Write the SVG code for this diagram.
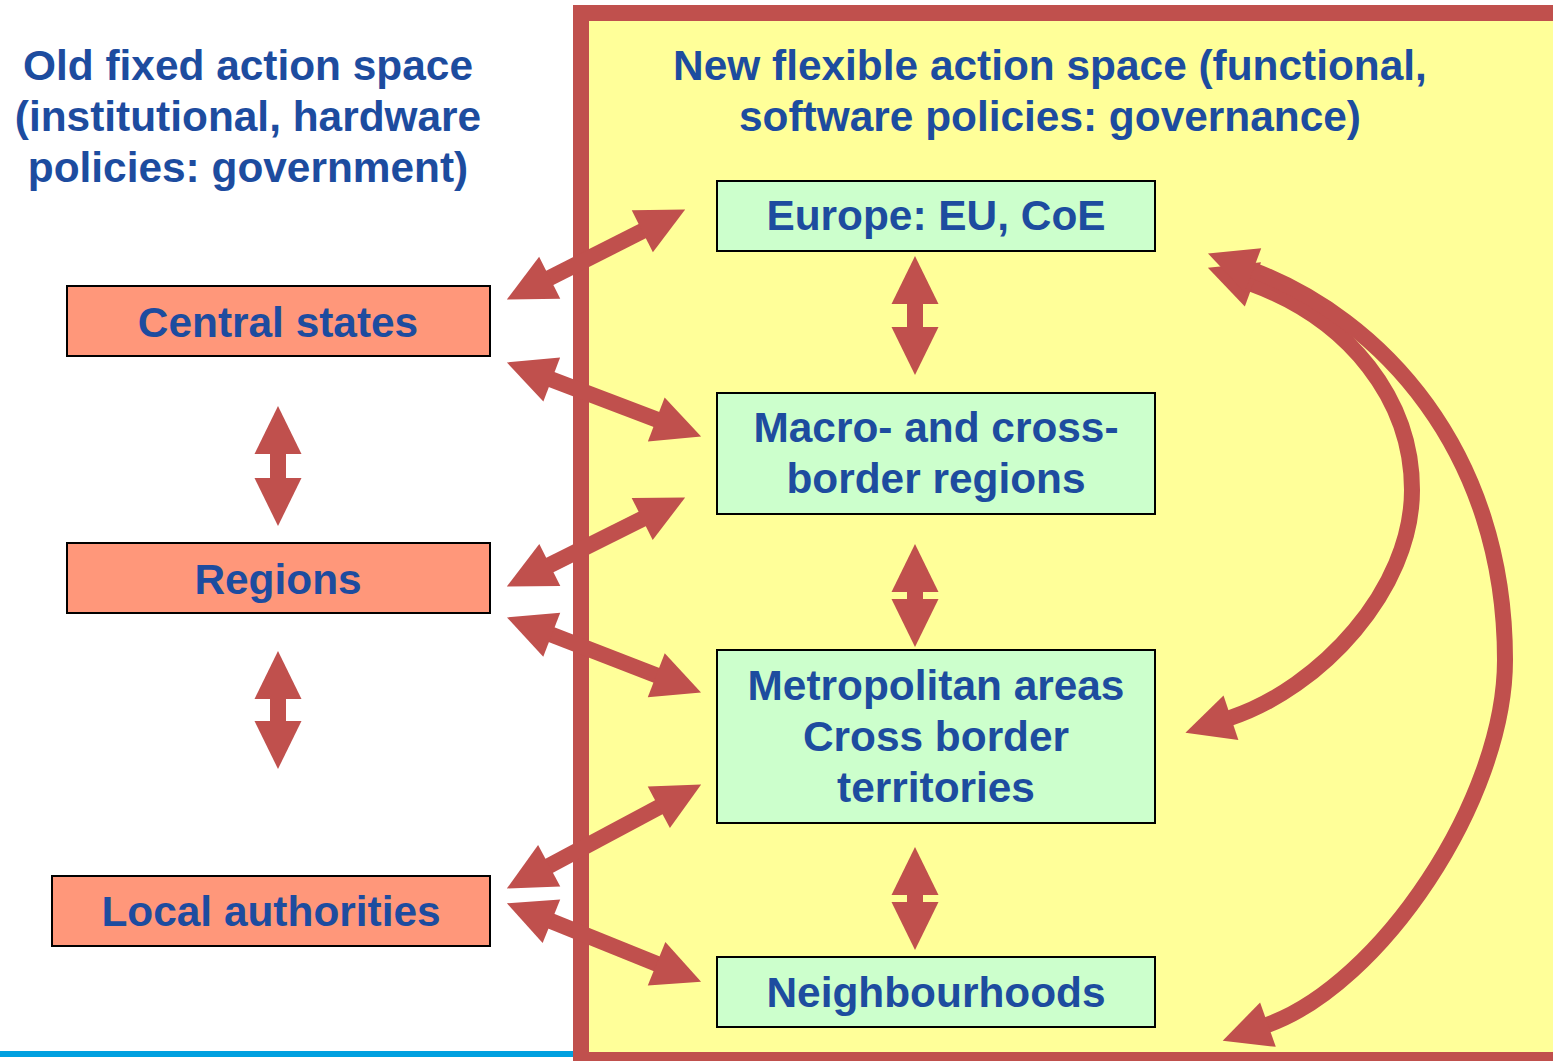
<svg xmlns="http://www.w3.org/2000/svg" width="1553" height="1061" viewBox="0 0 1553 1061">
<style>
.t{font-family:"Liberation Sans",Arial,sans-serif;font-weight:bold;font-size:42.4px;fill:#1d4c9f;text-anchor:middle}
.old{fill:#ff977a;stroke:#000;stroke-width:2}
.new{fill:#ccffcc;stroke:#000;stroke-width:2}
.c{stroke:#c0504d;stroke-width:16;fill:none;marker-start:url(#ah);marker-end:url(#ah)}
</style>
<defs>
<marker id="ah" markerUnits="userSpaceOnUse" viewBox="-2 -25 52 50" markerWidth="52" markerHeight="50" refX="1" refY="0" orient="auto-start-reverse">
<path d="M0,-23.5 L48,0 L0,23.5 Z" fill="#c0504d"/>
</marker>
</defs>
<rect width="1553" height="1061" fill="#ffffff"/>
<g id="frame">
<rect x="581" y="13" width="1000" height="1047" fill="#ffff99" stroke="#c0504d" stroke-width="16"/>
<line x1="0" y1="1054" x2="573" y2="1054" stroke="#00a0e0" stroke-width="6"/>
</g>
<g id="titles">
<text class="t" x="248" y="80">Old fixed action space</text>
<text class="t" x="248" y="131">(institutional, hardware</text>
<text class="t" x="248" y="182">policies: government)</text>
<text class="t" x="1050" y="80">New flexible action space (functional,</text>
<text class="t" x="1050" y="131">software policies: governance)</text>
</g>
<g id="connectors">
<line class="c" x1="278" y1="453" x2="278" y2="479"/>
<line class="c" x1="278" y1="698" x2="278" y2="722"/>
<line class="c" x1="915" y1="303" x2="915" y2="328"/>
<line class="c" x1="915" y1="591" x2="915" y2="600"/>
<line class="c" x1="915" y1="894" x2="915" y2="903"/>
<line class="c" x1="548.8" y1="278.3" x2="643.2" y2="230.7"/>
<line class="c" x1="550.8" y1="379.2" x2="657.2" y2="419.8"/>
<line class="c" x1="548.9" y1="565.5" x2="643.1" y2="518.5"/>
<line class="c" x1="550.8" y1="634.4" x2="657.2" y2="675.6"/>
<line class="c" x1="548.3" y1="866.3" x2="659.7" y2="806.7"/>
<line class="c" x1="550.5" y1="920.9" x2="657.5" y2="964.1"/>
<path class="c" d="M1230,718 C1320,688 1412,590 1412,490 C1412,400 1350,320 1252,284"/>
<path class="c" d="M1252,270 C1380,318 1505,450 1505,660 C1505,800 1380,985 1267,1025"/>
</g>
<g id="central-states">
<rect class="old" x="67" y="286" width="423" height="70"/>
<text class="t" x="278" y="337">Central states</text>
</g>
<g id="regions">
<rect class="old" x="67" y="543" width="423" height="70"/>
<text class="t" x="278" y="594">Regions</text>
</g>
<g id="local-authorities">
<rect class="old" x="52" y="876" width="438" height="70"/>
<text class="t" x="271" y="926">Local authorities</text>
</g>
<g id="europe">
<rect class="new" x="717" y="181" width="438" height="70"/>
<text class="t" x="936" y="230">Europe: EU, CoE</text>
</g>
<g id="macro-regions">
<rect class="new" x="717" y="393" width="438" height="121"/>
<text class="t" x="936" y="442">Macro- and cross-</text>
<text class="t" x="936" y="493">border regions</text>
</g>
<g id="metropolitan-areas">
<rect class="new" x="717" y="650" width="438" height="173"/>
<text class="t" x="936" y="700">Metropolitan areas</text>
<text class="t" x="936" y="751">Cross border</text>
<text class="t" x="936" y="802">territories</text>
</g>
<g id="neighbourhoods">
<rect class="new" x="717" y="957" width="438" height="70"/>
<text class="t" x="936" y="1007">Neighbourhoods</text>
</g>
</svg>
